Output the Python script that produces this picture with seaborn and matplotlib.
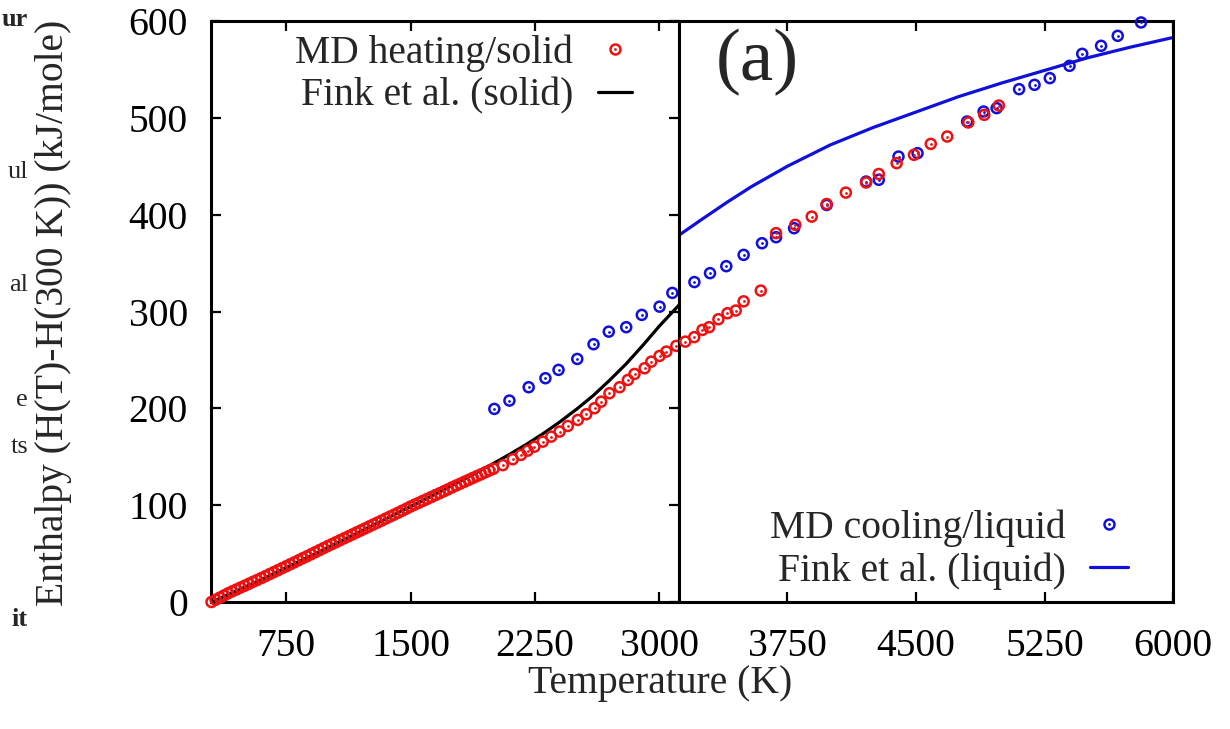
import numpy as np
import pandas as pd
import matplotlib
matplotlib.use("Agg")
import matplotlib.pyplot as plt
import seaborn as sns
from matplotlib.lines import Line2D
from matplotlib.legend_handler import HandlerTuple

# ---------------- data ----------------
# MD heating / solid (red points)
heat_T = [300, 325, 350, 375, 400, 425, 450, 475, 500, 525, 550, 575, 600, 625, 650, 675,
          700, 725, 750, 775, 800, 825, 850, 875, 900, 925, 950, 975, 1000, 1025, 1050, 1075,
          1100, 1125, 1150, 1175, 1200, 1225, 1250, 1275, 1300, 1325, 1350, 1375, 1400, 1425,
          1450, 1475, 1500, 1525, 1550, 1575, 1600, 1625, 1650, 1675, 1700, 1725, 1750, 1775,
          1800, 1825, 1850, 1875, 1900, 1925, 1950, 1975, 2000,
          2056, 2116, 2166, 2206, 2247, 2297, 2348, 2398, 2448, 2508, 2559, 2609, 2649,
          2699, 2760, 2810, 2850, 2911, 2951, 3001, 3042, 3102, 3155, 3207, 3255, 3294,
          3348, 3401, 3449, 3495, 3595,
          3684, 3796, 3892, 3979, 4091, 4209, 4283, 4387, 4488, 4586, 4682, 4805, 4898, 4983]
heat_H = [0.0, 2.3, 4.5, 6.7, 9.0, 11.0, 12.9, 14.9, 16.8, 18.8, 20.8, 22.7, 24.7, 26.7, 28.8, 30.8,
          32.8, 34.9, 36.9, 39.0, 41.0, 43.1, 45.2, 47.2, 49.3, 51.4, 53.5, 55.6, 57.7, 59.7, 61.7, 63.8,
          65.8, 67.8, 69.8, 71.9, 73.9, 75.9, 78.0, 80.0, 82.0, 84.0, 86.1, 88.1, 90.1, 92.2,
          94.3, 96.4, 98.6, 100.6, 102.5, 104.5, 106.4, 108.4, 110.4, 112.3, 114.3, 116.3, 118.4, 120.3,
          122.2, 124.2, 126.1, 128.1, 130.0, 131.9, 133.9, 135.8, 137.6,
          141.3, 147.4, 151.9, 156.3, 160.4, 165.6, 170.8, 176.0, 181.8, 188.0, 193.9, 200.1, 206.9,
          215.6, 221.8, 229.3, 235.5, 241.4, 248.2, 254.1, 258.6, 264.5, 268.9, 273.5, 281.0, 283.8,
          292.0, 298.2, 301.0, 310.5, 321.6,
          380.9, 389.5, 398.0, 411.0, 422.8, 433.2, 442.0, 453.2, 461.8, 473.1, 480.7, 495.2, 503.1, 512.7]

# MD cooling / liquid (blue points)
cool_T = [2005, 2096, 2212, 2313, 2392, 2505, 2603, 2695, 2800, 2894, 3001, 3078, 3208, 3299,
          3394, 3495, 3602, 3684, 3789, 3979, 4209, 4283, 4398, 4509, 4798, 4894, 4970, 5101,
          5191, 5280, 5395, 5469, 5579, 5676, 5812]
cool_H = [199.4, 208.0, 221.8, 231.1, 239.7, 251.0, 266.2, 279.2, 283.8, 296.5, 305.0, 319.2, 330.4, 339.6,
          346.8, 358.5, 370.5, 376.7, 386.0, 410.0, 434.2, 436.0, 460.0, 463.5, 496.2, 506.5, 510.0, 529.6,
          534.1, 541.0, 553.7, 566.1, 574.4, 584.7, 598.5]

# Fink et al. (solid) - black curve
fink_s_T = [300, 400, 500, 600, 700, 800, 900, 1000, 1100, 1200, 1300, 1400, 1500, 1600, 1700,
            1800, 1900, 2000, 2100, 2200, 2300, 2400, 2500, 2600, 2700, 2800, 2900, 3000, 3120]
fink_s_H = [0, 7.5, 15.3, 23.2, 31.3, 39.5, 47.8, 56.2, 64.6, 73.0, 81.5, 90.0, 98.6, 107.2, 115.9,
            124.8, 133.8, 143.1, 152.8, 163.0, 174.0, 186.0, 199.0, 213.0, 229.0, 246.0, 265.0, 285.0, 307.0]

# Fink et al. (liquid) - blue curve
fink_l_T = [3120, 3250, 3400, 3541, 3750, 4000, 4250, 4500, 4750, 5000, 5250, 5500, 5750, 6000]
fink_l_H = [379, 395, 413, 429, 450, 472, 490, 506, 522, 536, 549, 562, 573, 583]

T_MELT = 3120
left_xticks = [750, 1500, 2250, 3000]
right_xticks = [3750, 4500, 5250, 6000]
yticks = [0, 100, 200, 300, 400, 500, 600]

# ---------------- style ----------------
sns.set_theme(style="ticks")
plt.rcParams['font.family'] = ['Liberation Serif', 'DejaVu Serif']
RED = '#ee1111'
BLUE = '#1010dd'
FS = 28.5

heat = pd.DataFrame({'T': heat_T, 'H': heat_H})
cool = pd.DataFrame({'T': cool_T, 'H': cool_H})
fs_df = pd.DataFrame({'T': fink_s_T, 'H': fink_s_H})
fl_df = pd.DataFrame({'T': fink_l_T, 'H': fink_l_H})

W, Hpx = 1230, 729
fig = plt.figure(figsize=(W / 100, Hpx / 100), dpi=100)
x_l, x_m, x_r = 211.5, 679.3, 1173.3
y_b, y_t = 602, 21
ax1 = fig.add_axes([x_l / W, (Hpx - y_b) / Hpx, (x_m - x_l) / W, (y_b - y_t) / Hpx])
ax2 = fig.add_axes([x_m / W, (Hpx - y_b) / Hpx, (x_r - x_m) / W, (y_b - y_t) / Hpx])

MS_S, MS_LW, DOT_S = 52, 1.8, 4


def points(ax, df, color):
    sns.scatterplot(data=df, x='T', y='H', ax=ax, marker='o', s=MS_S, linewidth=MS_LW,
                    facecolor='none', edgecolor=color, clip_on=False, zorder=3, legend=False)
    sns.scatterplot(data=df, x='T', y='H', ax=ax, marker='o', s=DOT_S, linewidth=0,
                    color=color, clip_on=False, zorder=3, legend=False)


# left panel (solid range)
sns.lineplot(data=fs_df, x='T', y='H', ax=ax1, color='black', lw=2.3, estimator=None, zorder=2)
points(ax1, cool[cool['T'] <= T_MELT], BLUE)
points(ax1, heat[heat['T'] <= T_MELT], RED)

# right panel (liquid range)
sns.lineplot(data=fl_df, x='T', y='H', ax=ax2, color=BLUE, lw=2.3, estimator=None, zorder=2)
points(ax2, cool[cool['T'] > T_MELT], BLUE)
points(ax2, heat[heat['T'] > T_MELT], RED)

for ax in (ax1, ax2):
    ax.set_ylim(0, 600)
    ax.set_xlabel('')
    ax.set_ylabel('')
    for sp in ax.spines.values():
        sp.set_linewidth(2.2)
        sp.set_color('black')
        sp.set_visible(True)
    ax.tick_params(axis='both', direction='in', length=7, width=1.6, labelsize=FS,
                   colors='black', top=True, bottom=True)
    ax.tick_params(axis='x', pad=19)

ax1.set_xlim(300, T_MELT)
ax1.set_xticks(left_xticks)
ax1.set_xticklabels([str(t) for t in left_xticks])
ax1.set_yticks(yticks)
ax1.set_yticklabels([str(v) for v in yticks])
ax1.tick_params(axis='y', left=True, right=True, pad=17)

ax2.set_xlim(T_MELT, 6000)
ax2.set_xticks(right_xticks)
ax2.set_xticklabels([str(t) for t in right_xticks])
ax2.set_yticks(yticks)
ax2.tick_params(axis='y', left=False, right=False, labelleft=False)


# legends
def handles(color):
    c = Line2D([], [], ls='', marker='o', ms=7.2, mfc='none', mec=color, mew=MS_LW)
    d = Line2D([], [], ls='', marker='o', ms=2.0, mew=0, color=color)
    return (c, d)


leg_kw = dict(handler_map={tuple: HandlerTuple(ndivide=1)}, frameon=False, markerfirst=False,
              fontsize=FS, handletextpad=0.62, labelspacing=0.15, borderpad=0, borderaxespad=0,
              bbox_transform=fig.transFigure)
ax1.legend(handles=[handles(RED), Line2D([], [], color='black', lw=2.3)],
           labels=['MD heating/solid', 'Fink et al. (solid)'], loc='upper right',
           bbox_to_anchor=(632 / W, 1 - 34 / Hpx), handlelength=0.87, **leg_kw)
ax2.legend(handles=[handles(BLUE), Line2D([], [], color=BLUE, lw=2.3)],
           labels=['MD cooling/liquid', 'Fink et al. (liquid)'], loc='lower right',
           bbox_to_anchor=(1128 / W, 1 - 590 / Hpx), handlelength=0.95, **leg_kw)

# labels
fig.text(660 / W, 1 - 683 / Hpx, 'Temperature (K)', ha='center', va='center', fontsize=FS)
fig.text(54 / W, 1 - 313 / Hpx, 'Enthalpy (H(T)-H(300 K)) (kJ/mole)', ha='center', va='center',
         rotation=90, fontsize=FS)
fig.text(757 / W, 1 - 62 / Hpx, '(a)', ha='center', va='center', fontsize=54)

# text fragments from the neighbouring column (cut off at the left edge)
frags = [('ur', 20, 'bold'), ('ul', 172, 'normal'), ('al', 285, 'normal'),
         ('e', 400, 'normal'), ('ts', 447, 'normal'), ('it', 620, 'bold')]
for s, yy, wt in frags:
    fig.text(28 / W, 1 - yy / Hpx, s, ha='right', va='center', fontsize=19, fontweight=wt)

fig.savefig('out.png', dpi=100, facecolor='white')
